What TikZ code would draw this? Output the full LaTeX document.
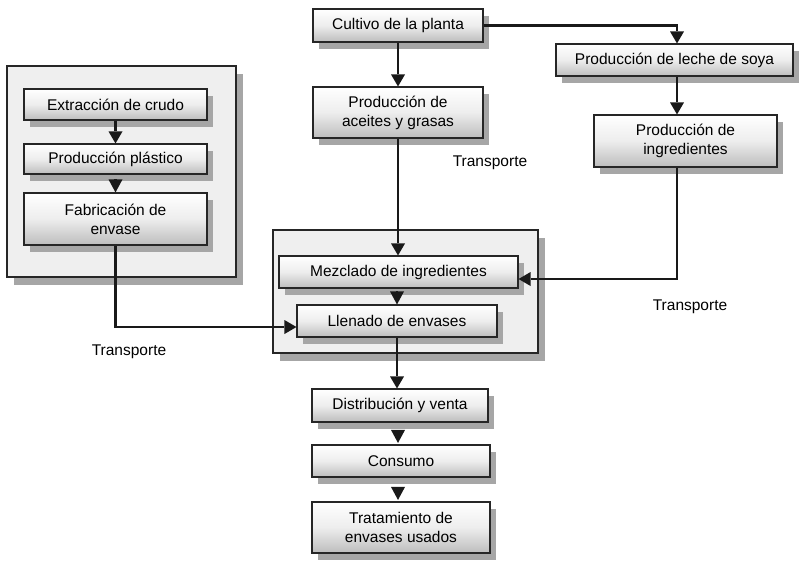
\documentclass[tikz,border=0pt]{standalone}
\usepackage{fontspec}
\setmainfont{Liberation Sans}
\usetikzlibrary{arrows.meta,shadows,calc}
\definecolor{shadowgray}{HTML}{A6A6A6}
\definecolor{groupfill}{HTML}{EFEFEF}
\tikzset{
  every node/.style={font=\fontsize{15.5}{19}\selectfont},
  procbox/.style={draw=black!85, line width=1.1pt, rectangle, inner sep=0pt, align=center,
    top color=white, bottom color=black!26, middle color=black!7,
    drop shadow={shadow xshift=6pt, shadow yshift=-7pt, fill=shadowgray, opacity=1}},
  groupbox/.style={draw=black!85, line width=1.1pt, rectangle, inner sep=0pt, fill=groupfill,
    drop shadow={shadow xshift=7pt, shadow yshift=-8pt, fill=shadowgray, opacity=1}},
  conn/.style={line width=2.2pt, draw=black!90, -{Triangle[width=14pt,length=12pt,line width=0pt]}},
  headonly/.style={line width=2.2pt, draw=black!90, -{Triangle[width=14pt,length=13pt,line width=0pt]}},
  lbl/.style={inner sep=0pt}
}
\begin{document}
\begin{tikzpicture}[x=1pt,y=-1pt]
\useasboundingbox (0,0) rectangle (799,560);
% group boxes
\node[groupbox, minimum width=229pt, minimum height=211pt] (groupL) at (121.5,171.5) {};
\node[groupbox, minimum width=265pt, minimum height=123pt] (groupM) at (405.5,291.5) {};
% left column
\node[procbox, minimum width=183pt, minimum height=31pt] (ext) at (115.5,104.5) {Extracción de crudo};
\node[procbox, minimum width=183pt, minimum height=30pt] (plas) at (115.5,159) {Producción plástico};
\node[procbox, minimum width=183pt, minimum height=52pt] (fab) at (115.5,219) {Fabricación de\\envase};
% middle column
\node[procbox, minimum width=170pt, minimum height=33pt] (cult) at (398,25.5) {Cultivo de la planta};
\node[procbox, minimum width=170pt, minimum height=51pt] (acei) at (398,112.5) {Producción de\\aceites y grasas};
\node[procbox, minimum width=239pt, minimum height=32pt] (mezc) at (398.5,272) {Mezclado de ingredientes};
\node[procbox, minimum width=200pt, minimum height=32pt] (llen) at (397,321) {Llenado de envases};
\node[procbox, minimum width=176pt, minimum height=33pt] (dist) at (400,405.5) {Distribución y venta};
\node[procbox, minimum width=178pt, minimum height=32pt] (cons) at (401,461) {Consumo};
\node[procbox, minimum width=178pt, minimum height=51pt] (trat) at (401,527.5) {Tratamiento de\\envases usados};
% right column
\node[procbox, minimum width=237pt, minimum height=32pt] (lech) at (674.5,60) {Producción de leche de soya};
\node[procbox, minimum width=183pt, minimum height=52pt] (ingr) at (685.5,141) {Producción de\\ingredientes};
% labels
\node[lbl] (t1) at (490,163) {Transporte};
\node[lbl] (t2) at (690,307) {Transporte};
\node[lbl] (t3) at (129,352) {Transporte};
% connectors
\draw[conn] (ext) -- (plas);
\draw[headonly, shorten <=5pt] (plas) -- (fab);
\draw[conn] (fab.south) |- ([yshift=-6pt]llen.west);
\draw[conn] (cult) -- (acei);
\draw[conn] (cult.east) -| ([xshift=2.5pt]lech.north);
\draw[conn] ([xshift=2.5pt]lech.south) -- ([xshift=2.5pt]lech.south |- ingr.north);
\draw[conn] (acei.south) -- (acei.south |- mezc.north);
\draw[conn] ([xshift=-8.5pt]ingr.south) |- ([yshift=-7pt]mezc.east);
\draw[headonly, shorten <=3pt] (mezc.south -| llen.north) -- (llen.north);
\draw[line width=2.2pt, draw=black!90] (llen.south) -- (llen.south |- groupM.south);
\draw[conn] (llen.south |- groupM.south) -- (llen.south |- dist.north);
\draw[headonly, shorten <=8pt, shorten >=1.5pt] ([xshift=-2pt]dist.south) -- ([xshift=-2pt]dist.south |- cons.north);
\draw[headonly, shorten <=10pt, shorten >=1.5pt] ([xshift=-3pt]cons.south) -- ([xshift=-3pt]cons.south |- trat.north);
\end{tikzpicture}
\end{document}
